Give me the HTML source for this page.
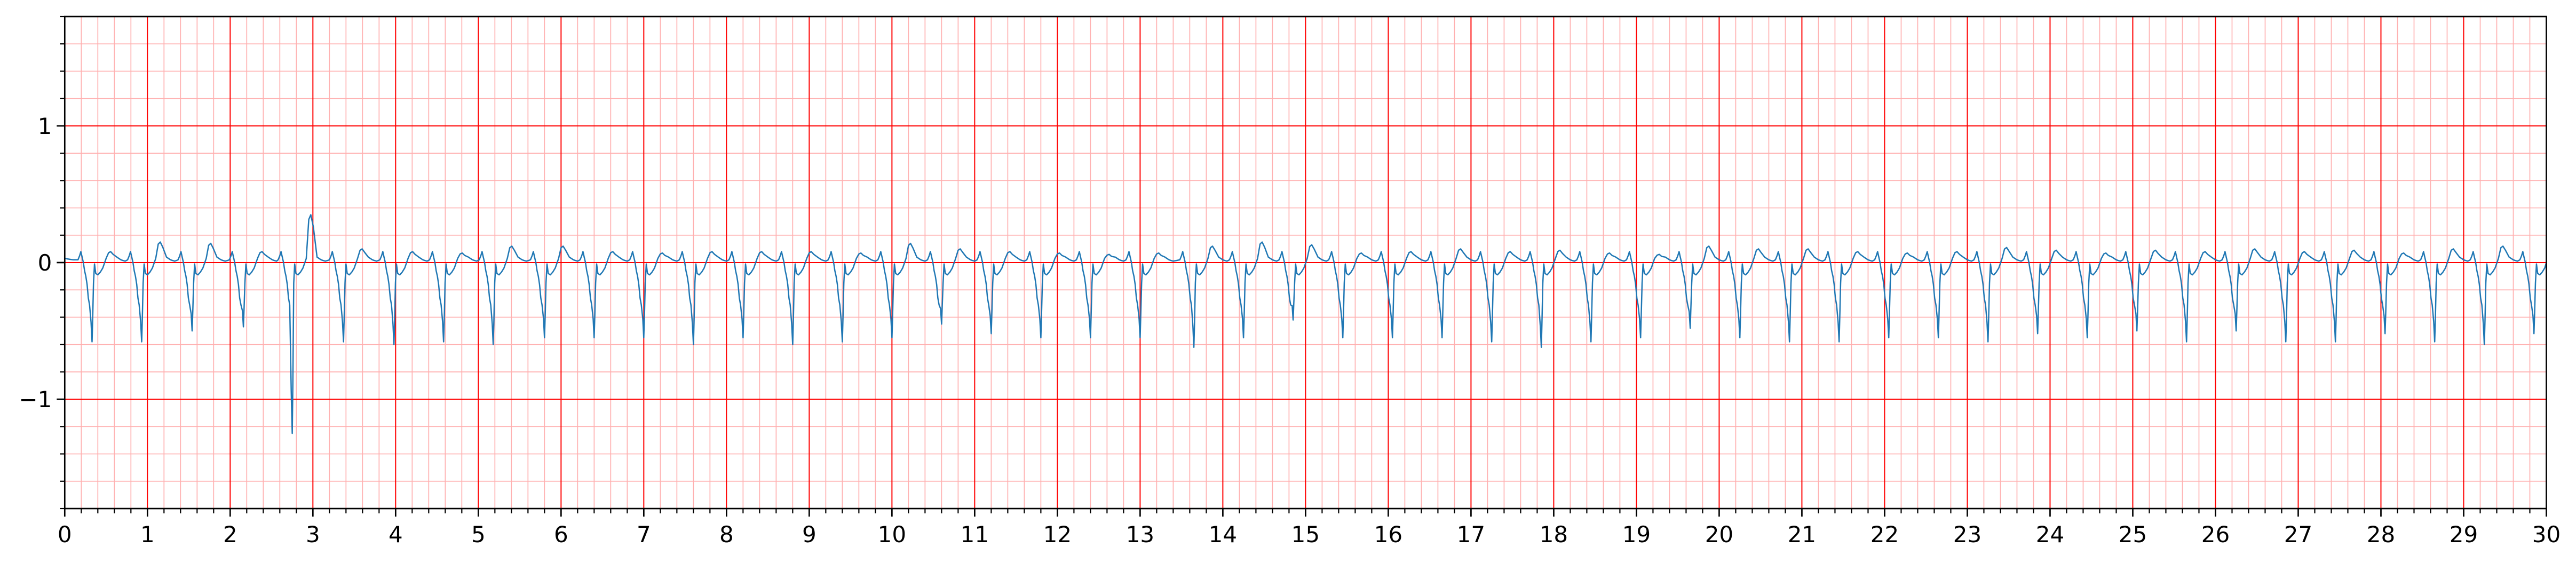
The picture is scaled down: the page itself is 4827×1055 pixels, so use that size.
<!DOCTYPE html>
<html><head><meta charset="utf-8">
<style>
html,body{margin:0;padding:0;background:#fff;}
svg{display:block;font-family:"DejaVu Sans","Liberation Sans",sans-serif;}
</style></head>
<body>
<svg id="chart" width="4827" height="1055" viewBox="0 0 4827 1055" xmlns="http://www.w3.org/2000/svg">
<g id="grid"></g>
<g id="trace"></g>
<g id="axes"></g>
</svg>
<script>
// beat data
const beatTimes = [0.33,0.93,1.54,2.16,2.75,3.37,3.98,4.58,5.18,5.80,6.40,7.00,7.60,8.20,8.80,9.40,10.00,10.60,11.20,11.80,12.40,13.00,13.65,14.25,14.85,15.45,16.05,16.65,17.25,17.85,18.45,19.05,19.65,20.25,20.85,21.45,22.05,22.65,23.25,23.85,24.45,25.05,25.65,26.25,26.85,27.45,28.05,28.65,29.25,29.85];
const beatDepths = [-0.58,-0.58,-0.5,-0.47,-1.25,-0.58,-0.6,-0.58,-0.6,-0.55,-0.55,-0.55,-0.6,-0.55,-0.6,-0.58,-0.55,-0.45,-0.52,-0.55,-0.55,-0.55,-0.62,-0.55,-0.42,-0.55,-0.55,-0.55,-0.58,-0.62,-0.58,-0.55,-0.48,-0.55,-0.58,-0.58,-0.55,-0.55,-0.58,-0.52,-0.55,-0.5,-0.58,-0.5,-0.58,-0.58,-0.52,-0.58,-0.6,-0.52];
const tHeights = [0.08,0.15,0.14,0.08,0.35,0.1,0.08,0.07,0.12,0.12,0.08,0.07,0.08,0.08,0.08,0.07,0.14,0.1,0.08,0.07,0.06,0.07,0.12,0.15,0.13,0.07,0.08,0.1,0.08,0.09,0.07,0.06,0.12,0.1,0.1,0.08,0.07,0.08,0.11,0.09,0.07,0.09,0.08,0.1,0.08,0.09,0.07,0.1,0.12,0.08];
const xTicks = [0,1,2,3,4,5,6,7,8,9,10,11,12,13,14,15,16,17,18,19,20,21,22,23,24,25,26,27,28,29,30];
const yTicks = [-1,0,1];
const yTickLabels = ["\u22121","0","1"];

const NS="http://www.w3.org/2000/svg";
const X0=121.3, X1=4771.5, Y0=31, Y1=953;
const xMin=0,xMax=30,yMin=-1.8,yMax=1.8;
function sx(v){return X0+(v-xMin)/(xMax-xMin)*(X1-X0);}
function sy(v){return Y1-(v-yMin)/(yMax-yMin)*(Y1-Y0);}
function mk(tag,attrs,parent){const e=document.createElementNS(NS,tag);for(const k in attrs)e.setAttribute(k,attrs[k]);parent.appendChild(e);return e;}

const grid=document.getElementById('grid');
for(let i=0;i<=150;i++){const v=i*0.2; if(i%5===0)continue;
  const l=mk('line',{x1:sx(v),x2:sx(v),y1:Y0,y2:Y1,stroke:'#ffb0b0','stroke-width':1.7},grid);
  
  }
for(let i=-9;i<=9;i++){const v=i*0.2; if(i%5===0)continue;
  const l=mk('line',{x1:X0,x2:X1,y1:sy(v),y2:sy(v),stroke:'#ffb0b0','stroke-width':1.7},grid);
  
  }
xTicks.forEach(v=>{const l=mk('line',{x1:sx(v),x2:sx(v),y1:Y0,y2:Y1,stroke:'#ff0000','stroke-width':2},grid);
  
  });
yTicks.forEach(v=>{const l=mk('line',{x1:X0,x2:X1,y1:sy(v),y2:sy(v),stroke:'#ff0000','stroke-width':2},grid);
  
  });

// ECG trace from beat arrays (template offsets relative to trough)
const tpl=[[-0.17,0.02,0],[-0.15,0.05,0],[-0.135,0.08,0],[-0.12,0.04,0],[-0.105,0.0,0],[-0.09,-0.06,0],[-0.075,-0.1,0],[-0.06,-0.16,0],[-0.045,-0.26,0],[-0.03,-0.31,0],[-0.012,0,0.75],[0,0,1],[0.008,0,0.7],[0.018,-0.15,0],[0.03,-0.01,0],[0.045,-0.08,0],[0.07,-0.09,0],[0.1,-0.07,0],[0.13,-0.04,0],[0.17,0.03,0],[0.2,0,-0.9],[0.225,0,-1],[0.255,0,-0.75],[0.3,0.04,0],[0.35,0.02,0],[0.4,0.01,0]];
let pts=[[0,0.03],[0.1,0.02]];
beatTimes.forEach((t,i)=>{
  tpl.forEach(p=>{
    let v=p[1];
    if(p[2]>0)v=beatDepths[i]*p[2];
    if(p[2]<0)v=tHeights[i]*(-p[2]);
    const tt=t+p[0];
    if(tt>=0.1&&tt<=30)pts.push([tt,v]);
  });
});
pts.push([30,0.0]);
const d=pts.map((p,i)=>(i?'L':'M')+sx(p[0]).toFixed(1)+','+sy(p[1]).toFixed(1)).join('');
const path=mk('path',{d:d,fill:'none',stroke:'#1f77b4','stroke-width':2.5,'stroke-linejoin':'round'},document.getElementById('trace'));



const ax=document.getElementById('axes');
const fr=mk('rect',{x:X0,y:Y0,width:X1-X0,height:Y1-Y0,fill:'none',stroke:'#000','stroke-width':2.7},ax);


for(let i=0;i<=150;i++){const v=i*0.2;const maj=i%5===0;
  const l=mk('line',{x1:sx(v),x2:sx(v),y1:Y1,y2:Y1+(maj?15:9),stroke:'#000','stroke-width':maj?2.7:2.2},ax);
  
  }
for(let i=-9;i<=9;i++){const v=i*0.2;const maj=i%5===0;
  const l=mk('line',{x1:X0,x2:X0-(maj?15:9),y1:sy(v),y2:sy(v),stroke:'#000','stroke-width':maj?2.7:2.2},ax);
  
  }
xTicks.forEach(v=>{const t=mk('text',{x:sx(v),y:1016,'font-size':42,'text-anchor':'middle',fill:'#000'},ax);t.textContent=String(v);
  
  });
yTicks.forEach((v,i)=>{const t=mk('text',{x:X0-24,y:sy(v)+15,'font-size':42,'text-anchor':'end',fill:'#000'},ax);t.textContent=yTickLabels[i];
  
  });
</script>
</body></html>
